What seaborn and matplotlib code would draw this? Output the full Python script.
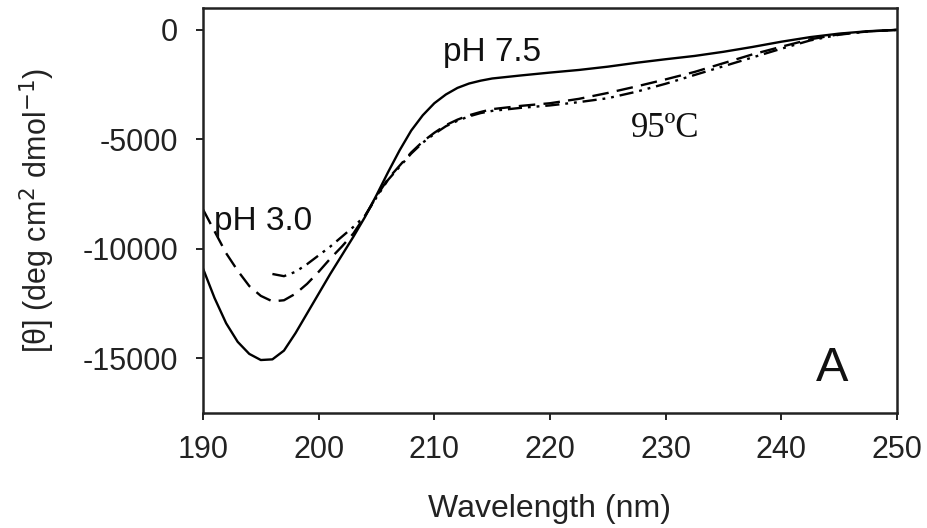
import matplotlib
matplotlib.use("Agg")
import matplotlib.pyplot as plt
import seaborn as sns
import pandas as pd

sns.set_theme(style="ticks")
plt.rcParams['font.family'] = ['Liberation Sans', 'DejaVu Sans']

# pH 7.5 (solid)
wl_ph75 = [190, 191, 192, 193, 194, 195, 196, 197, 198, 199, 200, 201, 202, 203, 204, 205, 206,
           207, 208, 209, 210, 211, 212, 213, 214, 215, 217.5, 220, 222.5, 225, 227.5, 230,
           232.5, 235, 237.5, 240, 242.5, 245, 247.5, 250]
th_ph75 = [-10900, -12250, -13400, -14250, -14800, -15080, -15050, -14650, -13850, -12950,
           -12050, -11150, -10300, -9450, -8550, -7550, -6500, -5500, -4600, -3900, -3350,
           -2950, -2650, -2450, -2320, -2220, -2080, -1950, -1830, -1680, -1500, -1340,
           -1190, -1000, -780, -540, -330, -170, -60, 0]

# pH 3.0 (dashed)
wl_ph30 = [190, 191, 192, 193, 194, 195, 196, 197, 198, 199, 200, 201, 202, 203, 204, 205, 206,
           207, 208, 209, 210, 211, 212, 213, 214, 215, 217.5, 220, 222.5, 225, 227.5, 230,
           232.5, 235, 237.5, 240, 242.5, 245, 247.5, 250]
th_ph30 = [-8200, -9200, -10200, -11000, -11700, -12150, -12400, -12350, -12050, -11600,
           -11050, -10450, -9900, -9300, -8500, -7600, -6800, -6200, -5600, -5100, -4700,
           -4350, -4100, -3900, -3750, -3620, -3470, -3350, -3150, -2880, -2580, -2260,
           -1920, -1520, -1120, -770, -430, -200, -70, 0]

# 95 C (dash-dot-dot)
wl_95 = [196, 197, 198, 199, 200, 201, 202, 203, 204, 205, 206, 207, 208, 209, 210, 211, 212,
         213, 214, 215, 217.5, 220, 222.5, 225, 227.5, 230, 232.5, 235, 237.5, 240, 242.5,
         245, 247.5, 250]
th_95 = [-11150, -11250, -11050, -10700, -10300, -9900, -9450, -9000, -8500, -7650, -6850,
         -6250, -5650, -5150, -4750, -4400, -4150, -3950, -3800, -3700, -3560, -3450, -3300,
         -3120, -2820, -2460, -2060, -1660, -1260, -860, -480, -220, -70, 0]

x_ticks = [190, 200, 210, 220, 230, 240, 250]
y_ticks = [0, -5000, -10000, -15000]

df75 = pd.DataFrame({"wl": wl_ph75, "theta": th_ph75})
df30 = pd.DataFrame({"wl": wl_ph30, "theta": th_ph30})
df95 = pd.DataFrame({"wl": wl_95, "theta": th_95})

W, H = 928, 528
fig = plt.figure(figsize=(W / 100, H / 100), dpi=100)
ax = fig.add_axes([203 / W, 1 - 413 / H, (897 - 203) / W, (413 - 8) / H])

lw = 1.7
sns.lineplot(data=df75, x="wl", y="theta", ax=ax, color="black", lw=lw)
sns.lineplot(data=df30, x="wl", y="theta", ax=ax, color="black", lw=lw).lines[-1].set_dashes([7, 3.5])
sns.lineplot(data=df95, x="wl", y="theta", ax=ax, color="black", lw=lw).lines[-1].set_dashes(
    [6, 2.5, 1.2, 2.5, 1.2, 2.5])

ax.set_xlim(190, 250)
ax.set_ylim(-17500, 1000)
ax.set_xticks(x_ticks)
ax.set_yticks(y_ticks)
ax.set_xticklabels([str(t) for t in x_ticks])
ax.set_yticklabels([str(t) for t in y_ticks])

for s in ax.spines.values():
    s.set_visible(True)
    s.set_linewidth(1.8)
    s.set_color("#222222")
ax.tick_params(axis="both", direction="out", length=5, width=1.4, colors="#222222",
               labelsize=22, labelcolor="#222222")
ax.tick_params(axis="y", pad=13)
ax.tick_params(axis="x", pad=11)

ax.set_xlabel("Wavelength (nm)", fontsize=23, color="#222222", labelpad=21)
ax.set_ylabel(r"[$\mathregular{\theta}$] (deg cm$^2$ dmol$^{-1}$)", fontsize=22,
              color="#222222", labelpad=18)


def px(x, y):
    return x / W, 1 - y / H


ax.text(*px(443, 61), "pH 7.5", transform=fig.transFigure, fontsize=24, color="#111111")
ax.text(*px(214, 230), "pH 3.0", transform=fig.transFigure, fontsize=24, color="#111111")
ax.text(*px(631, 137), "95ºC", transform=fig.transFigure, fontsize=25, color="#111111",
        family=["Liberation Serif", "DejaVu Serif"])
ax.text(*px(816, 381), "A", transform=fig.transFigure, fontsize=35, color="#111111")

fig.savefig("out.png", dpi=100)
